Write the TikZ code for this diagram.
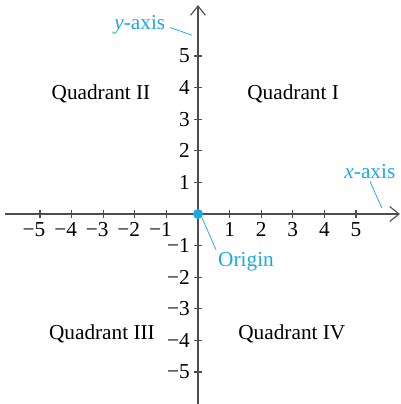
\documentclass[tikz,border=0pt]{standalone}
\usepackage{fontspec}
\setmainfont{Liberation Serif}
\usetikzlibrary{arrows.meta}
\definecolor{axisgray}{HTML}{4D4D4D}
\definecolor{labelcyan}{HTML}{1BA9E1}
\tikzset{
 ticklabel/.style={inner sep=1.5pt},
 quadlabel/.style={inner sep=0pt},
 callout/.style={labelcyan,thin}
}

\begin{document}
\begin{tikzpicture}[x=0.6cm,y=0.6cm,>={Straight Barb[length=5pt,width=8pt]},font=\fontsize{11.5}{13}\selectfont]
 \useasboundingbox (-6.266,-6.013) rectangle (6.424,6.772);
 % axes
 \coordinate (xleft) at (-6.11,0);
 \coordinate (xright) at (6.39,0);
 \coordinate (ybottom) at (0,-6.013);
 \coordinate (ytop) at (0,6.61);
 \draw[->,axisgray,line width=0.6pt] (xleft) -- (xright);
 \draw[->,axisgray,line width=0.6pt] (ybottom) -- (ytop);
 % ticks and numbers
 \foreach \i in {1,...,5} {
  \draw[axisgray,line width=0.6pt] (\i,-0.13) -- (\i,0.13);
  \draw[axisgray,line width=0.6pt] (-\i,-0.13) -- (-\i,0.13);
  \draw[axisgray,line width=0.6pt] (-0.13,\i) -- (0.13,\i);
  \draw[axisgray,line width=0.6pt] (-0.13,-\i) -- (0.13,-\i);
  \node[ticklabel,below] (xp\i) at (\i,-0.18) {\i};
  \node[ticklabel,below] (xn\i) at (-\i,-0.18) {\llap{−}\i};
  \node[ticklabel,left] (yp\i) at (-0.16,\i) {\i};
  \node[ticklabel,left] (yn\i) at (-0.16,-\i) {−\i};
 }
 % quadrants
 \node[quadlabel] (q2) at (-3.07,3.80) {Quadrant II};
 \node[quadlabel] (q1) at (3.01,3.80) {Quadrant I};
 \node[quadlabel] (q3) at (-3.04,-3.80) {Quadrant III};
 \node[quadlabel] (q4) at (2.97,-3.80) {Quadrant IV};
 % callouts
 \node[labelcyan,inner sep=1pt] (ylab) at (-1.84,5.98) {\textit{y}-axis};
 \coordinate (yend) at (-0.19,5.66);
 \draw[callout] (ylab.east) ++(0.08,-0.08) -- (yend);
 \node[labelcyan,inner sep=1pt] (xlab) at (5.44,1.33) {\textit{x}-axis};
 \coordinate (xend) at (5.82,0.19);
 \draw[callout] (xlab.south) -- (xend);
 \fill[labelcyan] (0,0) circle (2.7pt) coordinate (origin);
 \node[labelcyan,inner sep=1pt] (olab) at (1.52,-1.5) {Origin};
 \draw[callout] (origin) ++(0.13,-0.13) -- (olab.north west);
\end{tikzpicture}
\end{document}
